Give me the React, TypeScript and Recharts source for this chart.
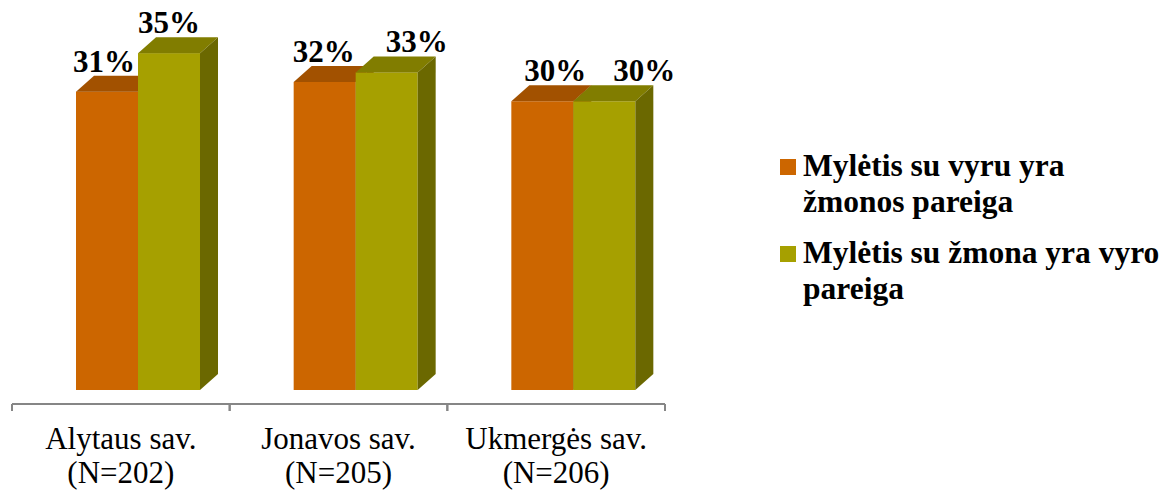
import React from 'react';
import { BarChart, Bar, XAxis, YAxis, LabelList } from 'recharts';

const categories = ['Alytaus sav.|(N=202)', 'Jonavos sav.|(N=205)', 'Ukmergės sav.|(N=206)'];
const husbandLove = [31, 32, 30];
const wifeLove = [35, 33, 30];
const seriesNames = ['Mylėtis su vyru yra žmonos pareiga', 'Mylėtis su žmona yra vyro pareiga'];

const data = categories.map((c, i) => ({ cat: c, a: husbandLove[i], b: wifeLove[i] }));

// horizontal nudges of the value labels (the original had them moved by hand)
const nudgeA = [-3, -1, 13];
const nudgeB = [0, 30, 40];

const SERIF = '"Liberation Serif", "Times New Roman", serif';
const DX = 17; // bars sit a bit right of the band centre
const DY = -14; // floor of the 3d box is above the axis line
const DEPTH_X = 18;
const DEPTH_Y = 16;

const makeShape = (front: string, top: string, side: string) => (props: any) => {
  const { x, y, width, height } = props;
  const x0 = x + DX;
  const y0 = y + DY;
  const x1 = x0 + width;
  const y1 = y0 + height;
  return (
    <g>
      <rect x={x0} y={y0} width={width} height={height} fill={front} />
      <polygon
        points={`${x0},${y0} ${x0 + DEPTH_X},${y0 - DEPTH_Y} ${x1 + DEPTH_X},${y0 - DEPTH_Y} ${x1},${y0}`}
        fill={top}
      />
      <polygon
        points={`${x1},${y0} ${x1 + DEPTH_X},${y0 - DEPTH_Y} ${x1 + DEPTH_X},${y1 - DEPTH_Y} ${x1},${y1}`}
        fill={side}
      />
    </g>
  );
};

const makeValueLabel = (nudge: number[]) => (props: any) => {
  const { x, y, width, value, index } = props;
  return (
    <text
      x={x + DX + width / 2 + (nudge[index] || 0)}
      y={y + DY - 20}
      textAnchor="middle"
      fontFamily={SERIF}
      fontWeight="bold"
      fontSize={31}
      fill="#000"
    >
      {value}%
    </text>
  );
};

const CategoryTick = (props: any) => {
  const { x, y, payload } = props;
  const half = payload.offset || 108.8;
  const [l1, l2] = String(payload.value).split('|');
  return (
    <g>
      <line x1={x - half} y1={y - 8} x2={x - half} y2={y - 1} stroke="#868686" strokeWidth={2} />
      <line x1={x + half} y1={y - 8} x2={x + half} y2={y - 1} stroke="#868686" strokeWidth={2} />
      <text x={x} y={y + 37} textAnchor="middle" fontFamily={SERIF} fontSize={31} fill="#000">
        {l1}
      </text>
      <text x={x} y={y + 71} textAnchor="middle" fontFamily={SERIF} fontSize={31} fill="#000">
        {l2}
      </text>
    </g>
  );
};

const legendColors = ['#cc6600', '#a6a000'];
const legendLines = [
  ['Mylėtis su vyru yra', 'žmonos pareiga'],
  ['Mylėtis su žmona yra vyro', 'pareiga'],
];

export default function App() {
  return (
    <div style={{ position: 'absolute', left: 0, top: 0, width: 1169, height: 493, background: '#fff' }}>
      <BarChart
        width={1169}
        height={493}
        data={data}
        margin={{ top: 19, right: 504, bottom: 0, left: 12 }}
        barSize={62}
        barGap={0}
      >
        <YAxis hide domain={[0, 40]} />
        <XAxis
          dataKey="cat"
          height={89}
          tickLine={false}
          axisLine={{ stroke: '#868686', strokeWidth: 2 }}
          tick={<CategoryTick />}
          interval={0}
        />
        <Bar dataKey="a" name={seriesNames[0]} isAnimationActive={false} shape={makeShape('#cc6600', '#a25100', '#8f4700')}>
          <LabelList dataKey="a" content={makeValueLabel(nudgeA)} />
        </Bar>
        <Bar dataKey="b" name={seriesNames[1]} isAnimationActive={false} shape={makeShape('#a6a000', '#817d00', '#6b6800')}>
          <LabelList dataKey="b" content={makeValueLabel(nudgeB)} />
        </Bar>
      </BarChart>
      <div style={{ position: 'absolute', left: 780, top: 148, fontFamily: SERIF, fontWeight: 'bold', fontSize: 31.5, color: '#000' }}>
        {legendLines.map((lines, i) => (
          <div key={i} style={{ position: 'relative', paddingLeft: 23, lineHeight: '36px', marginBottom: i === 0 ? 15 : 0 }}>
            <span
              style={{ position: 'absolute', left: 0, top: 11, width: 16, height: 16, background: legendColors[i] }}
            />
            {lines.map((t, j) => (
              <div key={j} style={{ whiteSpace: 'nowrap' }}>{t}</div>
            ))}
          </div>
        ))}
      </div>
    </div>
  );
}
